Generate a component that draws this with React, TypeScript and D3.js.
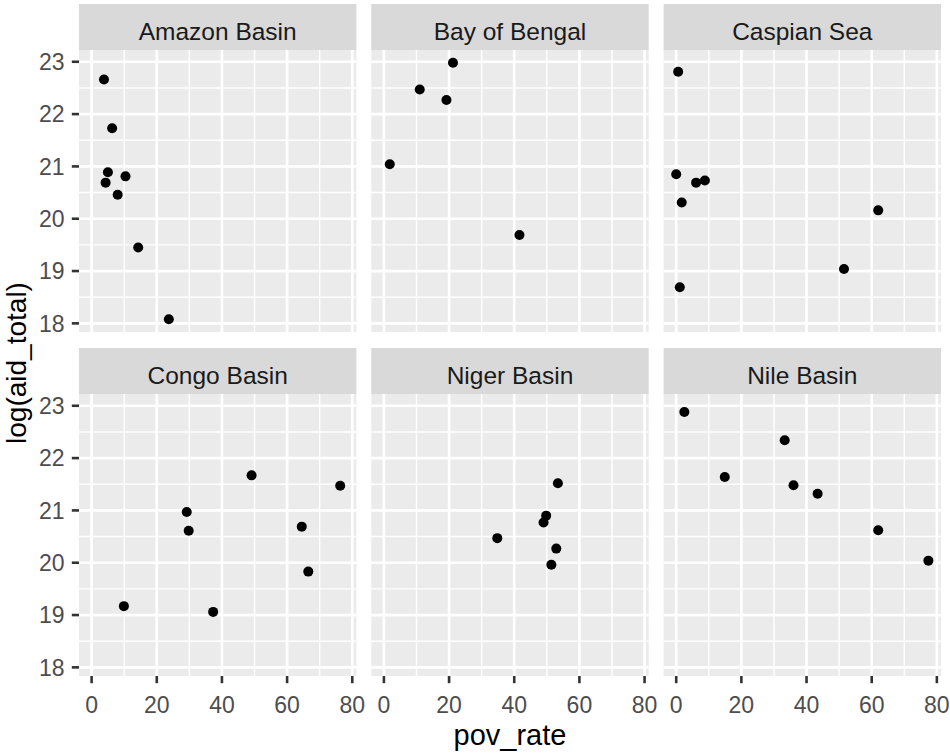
import React from "react";
import * as d3 from "d3";

const regions = ["Amazon Basin", "Bay of Bengal", "Caspian Sea", "Congo Basin", "Niger Basin", "Nile Basin"];

const povAmazon = [3.8, 6.3, 5.0, 4.3, 10.4, 8.0, 14.3, 23.7];
const aidAmazon = [22.66, 21.73, 20.89, 20.69, 20.81, 20.46, 19.45, 18.08];

const povBengal = [21.2, 11.0, 19.2, 1.8, 41.6];
const aidBengal = [22.98, 22.47, 22.27, 21.04, 19.69];

const povCaspian = [0.6, 0.0, 6.1, 8.8, 1.7, 62.0, 51.5, 1.1];
const aidCaspian = [22.81, 20.85, 20.69, 20.73, 20.31, 20.16, 19.04, 18.69];

const povCongo = [9.9, 29.2, 29.8, 37.3, 49.1, 64.5, 66.5, 76.3];
const aidCongo = [19.17, 20.97, 20.61, 19.06, 21.67, 20.69, 19.83, 21.47];

const povNiger = [53.4, 49.8, 49.0, 34.8, 52.9, 51.4];
const aidNiger = [21.52, 20.9, 20.77, 20.47, 20.27, 19.96];

const povNile = [2.5, 33.3, 14.9, 36.0, 43.4, 62.0, 77.4];
const aidNile = [22.88, 22.34, 21.64, 21.48, 21.32, 20.62, 20.04];

const povSeries = [povAmazon, povBengal, povCaspian, povCongo, povNiger, povNile];
const aidSeries = [aidAmazon, aidBengal, aidCaspian, aidCongo, aidNiger, aidNile];

const xTicks = [0, 20, 40, 60, 80];
const yTicks = [18, 19, 20, 21, 22, 23];

const xTitle = "pov_rate";
const yTitle = "log(aid_total)";

const FONT = "'Liberation Sans', Arial, sans-serif";

function minorTicks(major: number[], domain: number[]) {
  const step = major[1] - major[0];
  const out: number[] = [];
  out.push(major[0] - step / 2);
  major.forEach((t) => out.push(t + step / 2));
  return out.filter((v) => v >= domain[0] && v <= domain[1]);
}

export default function App() {
  const W = 950;
  const H = 754;
  const colX = [79, 371.3, 663.6];
  const pw = 277.4;
  const rowY = [4, 348];
  const sh = 46;
  const ph = 282;

  const allX = povSeries.flat();
  const allY = aidSeries.flat();
  const [xa, xb] = d3.extent(allX) as [number, number];
  const [ya, yb] = d3.extent(allY) as [number, number];
  const ex = (xb - xa) * 0.05;
  const ey = (yb - ya) * 0.05;
  const xDom = [xa - ex, xb + ex];
  const yDom = [ya - ey, yb + ey];
  const xs = d3.scaleLinear().domain(xDom).range([0, pw]);
  const ys = d3.scaleLinear().domain(yDom).range([ph, 0]);

  const xMinor = minorTicks(xTicks, xDom);
  const yMinor = minorTicks(yTicks, yDom);

  return (
    <svg
      width={W}
      height={H}
      style={{ position: "absolute", left: 0, top: 0, display: "block", background: "#fff" }}
    >
      <rect x={0} y={0} width={W} height={H} fill="#fff" />
      {regions.map((name, i) => {
        const c = i % 3;
        const r = Math.floor(i / 3);
        const px = colX[c];
        const sy = rowY[r];
        const py = sy + sh;
        return (
          <g key={name}>
            <rect x={px} y={sy} width={pw} height={sh} fill="#D9D9D9" />
            <text
              x={px + pw / 2}
              y={sy + 35.5}
              textAnchor="middle"
              fontFamily={FONT}
              fontSize={24.5}
              fill="#1A1A1A"
            >
              {name}
            </text>
            <g transform={`translate(${px},${py})`}>
              <rect x={0} y={0} width={pw} height={ph} fill="#EBEBEB" />
              {xMinor.map((t) => (
                <line key={"xm" + t} x1={xs(t)} x2={xs(t)} y1={0} y2={ph} stroke="#fff" strokeWidth={1.4} />
              ))}
              {yMinor.map((t) => (
                <line key={"ym" + t} x1={0} x2={pw} y1={ys(t)} y2={ys(t)} stroke="#fff" strokeWidth={1.4} />
              ))}
              {xTicks.map((t) => (
                <line key={"xM" + t} x1={xs(t)} x2={xs(t)} y1={0} y2={ph} stroke="#fff" strokeWidth={2.7} />
              ))}
              {yTicks.map((t) => (
                <line key={"yM" + t} x1={0} x2={pw} y1={ys(t)} y2={ys(t)} stroke="#fff" strokeWidth={2.7} />
              ))}
              {povSeries[i].map((v, k) => (
                <circle key={k} cx={xs(v)} cy={ys(aidSeries[i][k])} r={5} fill="#000" />
              ))}
              {c === 0 &&
                yTicks.map((t) => (
                  <g key={"yt" + t}>
                    <line x1={-7.2} x2={0} y1={ys(t)} y2={ys(t)} stroke="#333333" strokeWidth={2.6} />
                    <text
                      x={-14.5}
                      y={ys(t) + 8.2}
                      textAnchor="end"
                      fontFamily={FONT}
                      fontSize={23}
                      fill="#4D4D4D"
                    >
                      {t}
                    </text>
                  </g>
                ))}
              {r === 1 &&
                xTicks.map((t) => (
                  <g key={"xt" + t}>
                    <line x1={xs(t)} x2={xs(t)} y1={ph} y2={ph + 7.2} stroke="#333333" strokeWidth={2.6} />
                    <text
                      x={xs(t)}
                      y={ph + 36.5}
                      textAnchor="middle"
                      fontFamily={FONT}
                      fontSize={23}
                      fill="#4D4D4D"
                    >
                      {t}
                    </text>
                  </g>
                ))}
            </g>
          </g>
        );
      })}
      <text x={(colX[0] + colX[2] + pw) / 2} y={745} textAnchor="middle" fontFamily={FONT} fontSize={29} fill="#000">
        {xTitle}
      </text>
      <text
        transform={`translate(26,${(rowY[0] + sh + rowY[1] + sh + ph) / 2}) rotate(-90)`}
        textAnchor="middle"
        fontFamily={FONT}
        fontSize={28}
        fill="#000"
      >
        {yTitle}
      </text>
    </svg>
  );
}
